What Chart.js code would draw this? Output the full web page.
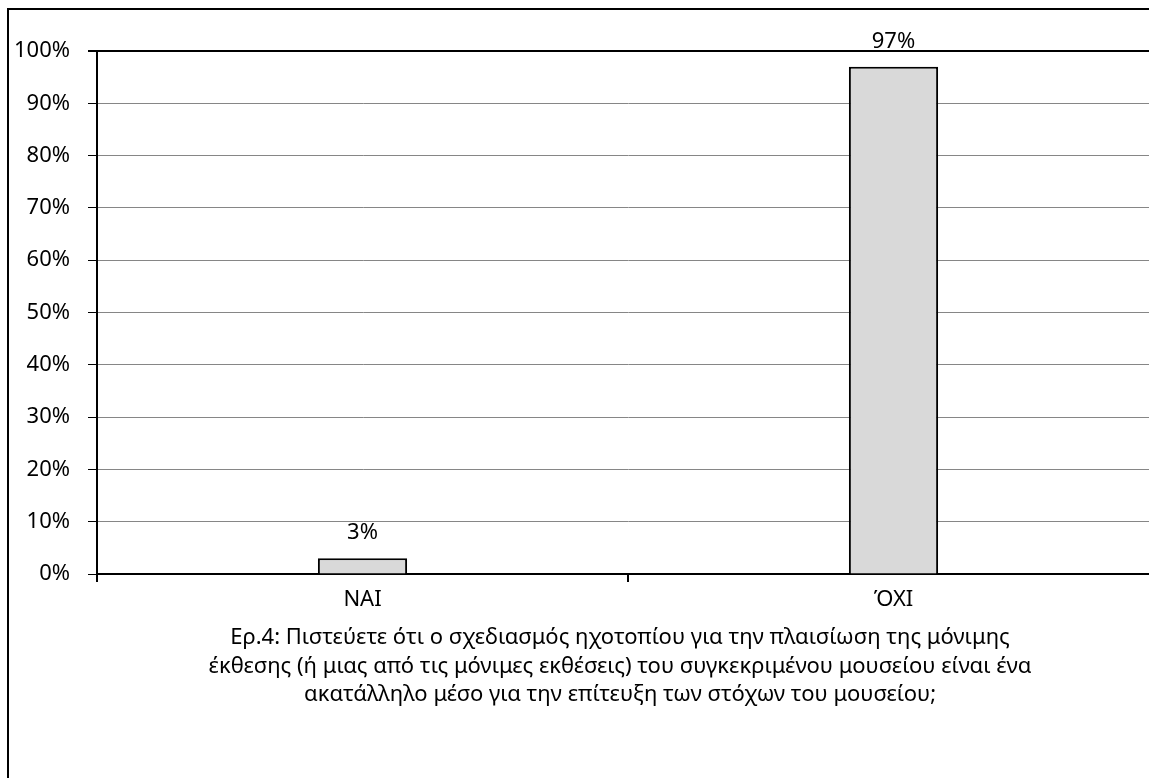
<!DOCTYPE html>
<html>
<head>
<meta charset="utf-8">
<script src="https://cdn.jsdelivr.net/npm/chart.js@4/dist/chart.umd.min.js"></script>
<style>
  html, body { margin: 0; padding: 0; background: #fff; overflow: hidden; }
  #wrap { position: absolute; left: 0; top: 0; width: 1240px; height: 778px; }
</style>
</head>
<body>
<div id="wrap"><canvas id="c" width="1240" height="778"></canvas></div>
<script>
// Survey answers (percent of respondents)
const categories = ['ΝΑΙ', 'ΌΧΙ'];
const shares = [3, 97];
const yTicks = [0, 10, 20, 30, 40, 50, 60, 70, 80, 90, 100];
const questionLines = [
  'Ερ.4: Πιστεύετε ότι ο σχεδιασμός ηχοτοπίου για την πλαισίωση της μόνιμης',
  'έκθεσης (ή μιας από τις μόνιμες εκθέσεις) του συγκεκριμένου μουσείου είναι ένα',
  'ακατάλληλο μέσο για την επίτευξη των στόχων του μουσείου;'
];

const FONT = 'Noto Sans';
const SIZE = 22;
Chart.defaults.font.family = FONT;
Chart.defaults.color = '#000';

// White page, outer frame and the question text under the axis
const framePlugin = {
  id: 'frame',
  beforeDraw(chart) {
    const ctx = chart.ctx;
    ctx.save();
    ctx.fillStyle = '#fff';
    ctx.fillRect(0, 0, chart.width, chart.height);
    ctx.restore();
  },
  afterDraw(chart) {
    const ctx = chart.ctx;
    ctx.save();
    ctx.strokeStyle = '#000';
    ctx.lineWidth = 2;
    ctx.strokeRect(8, 9, 1224, 1000);
    ctx.fillStyle = '#000';
    ctx.font = SIZE + 'px "' + FONT + '"';
    ctx.textAlign = 'center';
    ctx.textBaseline = 'middle';
    const cx = 8 + 1224 / 2;
    const ys = [638, 667, 695];
    questionLines.forEach((t, i) => ctx.fillText(t, cx, ys[i]));
    ctx.restore();
  }
};

// Percentage label above each bar
const valueLabels = {
  id: 'valueLabels',
  afterDatasetsDraw(chart) {
    const ctx = chart.ctx;
    const meta = chart.getDatasetMeta(0);
    ctx.save();
    ctx.fillStyle = '#000';
    ctx.font = SIZE + 'px "' + FONT + '"';
    ctx.textAlign = 'center';
    ctx.textBaseline = 'alphabetic';
    meta.data.forEach((bar, i) => {
      ctx.fillText(shares[i] + '%', bar.x, bar.y - 19);
    });
    ctx.restore();
  }
};

new Chart(document.getElementById('c'), {
  type: 'bar',
  data: {
    labels: categories,
    datasets: [{
      data: shares,
      backgroundColor: '#d9d9d9',
      borderColor: '#000',
      borderWidth: 2,
      categoryPercentage: 1,
      barPercentage: 0.168
    }]
  },
  options: {
    responsive: false,
    animation: false,
    devicePixelRatio: 1,
    layout: { padding: { top: 51, right: 81, bottom: 164, left: 0 } },
    plugins: { legend: { display: false }, tooltip: { enabled: false }, title: { display: false } },
    scales: {
      x: {
        afterFit(scale) { scale.height = 40; },
        grid: {
          offset: true,
          drawOnChartArea: false,
          drawTicks: true,
          tickLength: 8,
          tickColor: '#000',
          lineWidth: 2
        },
        border: { color: '#000', width: 2 },
        ticks: { font: { size: SIZE }, padding: 5, color: '#000' }
      },
      y: {
        min: 0,
        max: 100,
        afterFit(scale) { scale.width = 97; },
        afterBuildTicks(scale) { scale.ticks = yTicks.map(v => ({ value: v })); },
        grid: {
          color: c => (c.tick && (c.tick.value === 100 || c.tick.value === 0)) ? '#000' : '#868686',
          lineWidth: c => (c.tick && c.tick.value === 100) ? 2 : 1,
          tickColor: '#000',
          tickLength: 9
        },
        border: { color: '#000', width: 2 },
        ticks: {
          font: { size: SIZE },
          padding: 18,
          color: '#000',
          callback: v => v + '%'
        }
      }
    }
  },
  plugins: [framePlugin, valueLabels]
});
</script>
</body>
</html>
